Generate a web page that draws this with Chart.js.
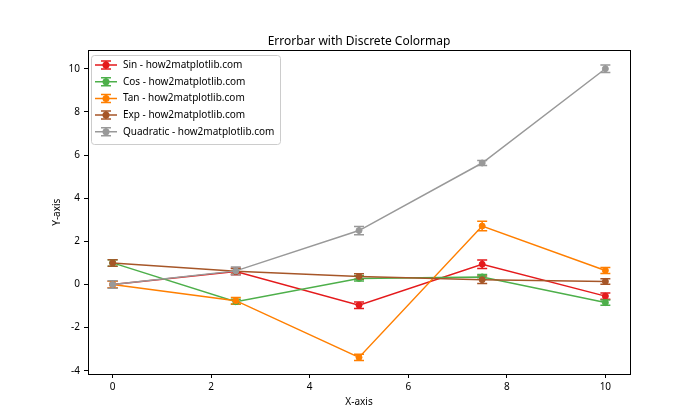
<!DOCTYPE html>
<html>
<head>
<meta charset="utf-8">
<script src="https://cdn.jsdelivr.net/npm/chart.js@4.4.1/dist/chart.umd.min.js"></script>
<style>
  html, body { margin: 0; padding: 0; background: #fff; }
  #wrap { width: 700px; height: 420px; }
</style>
</head>
<body>
<div id="wrap"><canvas id="chart" width="700" height="420"></canvas></div>
<script>
const FONT = "'Noto Sans', 'DejaVu Sans', sans-serif";

// data
const xValues = [0, 2.5, 5, 7.5, 10];
const sinValues = [0, 0.6, -0.96, 0.94, -0.54];
const cosValues = [1.0, -0.8, 0.28, 0.35, -0.84];
const tanValues = [0, -0.75, -3.38, 2.71, 0.65];
const expValues = [1.0, 0.61, 0.37, 0.22, 0.14];
const quadValues = [0, 0.63, 2.5, 5.63, 10.0];

const sinErrors = [0.15, 0.15, 0.15, 0.2, 0.15];
const cosErrors = [0.15, 0.12, 0.12, 0.11, 0.12];
const tanErrors = [0.15, 0.15, 0.14, 0.22, 0.14];
const expErrors = [0.15, 0.13, 0.13, 0.17, 0.13];
const quadErrors = [0.17, 0.18, 0.19, 0.12, 0.17];

const seriesNames = ["Sin", "Cos", "Tan", "Exp", "Quadratic"];
const seriesValues = [sinValues, cosValues, tanValues, expValues, quadValues];
const seriesErrors = [sinErrors, cosErrors, tanErrors, expErrors, quadErrors];
const colors = ["#e41a1c", "#4daf4a", "#ff7f00", "#a65628", "#999999"];

const xTicks = [0, 2, 4, 6, 8, 10];
const yTicks = [-4, -2, 0, 2, 4, 6, 8, 10];

const datasets = seriesNames.map((name, i) => ({
  label: name + " - how2matplotlib.com",
  data: xValues.map((x, j) => ({ x: x, y: seriesValues[i][j] })),
  errors: seriesErrors[i],
  borderColor: colors[i],
  backgroundColor: colors[i],
  pointBackgroundColor: colors[i],
  pointBorderColor: colors[i],
  pointRadius: 3,
  pointBorderWidth: 1,
  pointHoverRadius: 3,
  borderWidth: 1.5,
  tension: 0,
  fill: false,
  order: seriesNames.length - i
}));

// error bars with caps, drawn under the lines and markers
const errorBars = {
  id: "errorBars",
  beforeDatasetsDraw(chart) {
    const ctx = chart.ctx;
    const xs = chart.scales.x, ys = chart.scales.y;
    ctx.save();
    ctx.lineWidth = 1.5;
    chart.data.datasets.forEach(ds => {
      ctx.strokeStyle = ds.borderColor;
      ds.data.forEach((p, j) => {
        const px = xs.getPixelForValue(p.x);
        const top = ys.getPixelForValue(p.y + ds.errors[j]);
        const bot = ys.getPixelForValue(p.y - ds.errors[j]);
        ctx.beginPath();
        ctx.moveTo(px, top); ctx.lineTo(px, bot);
        ctx.moveTo(px - 5, top); ctx.lineTo(px + 5, top);
        ctx.moveTo(px - 5, bot); ctx.lineTo(px + 5, bot);
        ctx.stroke();
      });
    });
    ctx.restore();
  }
};

// axes frame + matplotlib style legend box
const frameAndLegend = {
  id: "frameAndLegend",
  afterLayout(chart) {
    // centre the title over the plot area, like matplotlib
    const t = chart.titleBlock;
    if (t) { t.left = chart.chartArea.left; t.right = chart.chartArea.right; }
  },
  afterDraw(chart) {
    const ctx = chart.ctx;
    const a = chart.chartArea;
    ctx.save();
    ctx.strokeStyle = "#000";
    ctx.lineWidth = 1;
    ctx.strokeRect(Math.round(a.left) + 0.5, Math.round(a.top) + 0.5,
      Math.round(a.right - a.left), Math.round(a.bottom - a.top));

    const bx = 91, by = 55, bw = 189, bh = 89;
    ctx.beginPath();
    ctx.roundRect(bx + 0.5, by + 0.5, bw, bh, 3);
    ctx.fillStyle = "rgba(255,255,255,0.8)";
    ctx.fill();
    ctx.strokeStyle = "#cccccc";
    ctx.stroke();

    ctx.font = "10px " + FONT;
    ctx.textBaseline = "middle";
    chart.data.datasets.forEach((ds, i) => {
      const y = 65 + i * 16.7;
      ctx.strokeStyle = ds.borderColor;
      ctx.fillStyle = ds.borderColor;
      ctx.lineWidth = 1.5;
      ctx.beginPath();
      ctx.moveTo(95, y); ctx.lineTo(117, y);
      ctx.moveTo(106, y - 4); ctx.lineTo(106, y + 4);
      ctx.moveTo(101, y - 4); ctx.lineTo(111, y - 4);
      ctx.moveTo(101, y + 4); ctx.lineTo(111, y + 4);
      ctx.stroke();
      ctx.beginPath();
      ctx.arc(106, y, 3.5, 0, Math.PI * 2);
      ctx.fill();
      ctx.fillStyle = "#000";
      ctx.fillText(ds.label, 123, y);
    });
    ctx.restore();
  }
};

new Chart(document.getElementById("chart"), {
  type: "line",
  data: { datasets: datasets },
  plugins: [errorBars, frameAndLegend],
  options: {
    responsive: false,
    animation: false,
    events: [],
    layout: { padding: { left: 0, right: 70, top: 0, bottom: 0 } },
    plugins: {
      legend: { display: false },
      tooltip: { enabled: false },
      title: {
        display: true,
        text: "Errorbar with Discrete Colormap",
        color: "#000",
        font: { family: FONT, size: 12, weight: "normal" },
        padding: { top: 34, bottom: 2 }
      }
    },
    scales: {
      x: {
        type: "linear",
        min: -0.5, max: 10.5,
        afterBuildTicks: s => { s.ticks = xTicks.map(v => ({ value: v })); },
        afterFit: s => { s.height = 46; },
        grid: { drawOnChartArea: false, tickLength: 4, color: "#000" },
        border: { display: false },
        ticks: { color: "#000", font: { family: FONT, size: 10 }, padding: 3, maxRotation: 0 },
        title: { display: true, text: "X-axis", color: "#000", font: { family: FONT, size: 10 }, padding: 12 }
      },
      y: {
        type: "linear",
        min: -4.15, max: 10.85,
        afterBuildTicks: s => { s.ticks = yTicks.map(v => ({ value: v })); },
        afterFit: s => { s.width = 88; },
        grid: { drawOnChartArea: false, tickLength: 4, color: "#000" },
        border: { display: false },
        ticks: { color: "#000", font: { family: FONT, size: 10 }, padding: 4 },
        title: { display: true, text: "Y-axis", color: "#000", font: { family: FONT, size: 10 }, padding: 51 }
      }
    }
  }
});
</script>
</body>
</html>
